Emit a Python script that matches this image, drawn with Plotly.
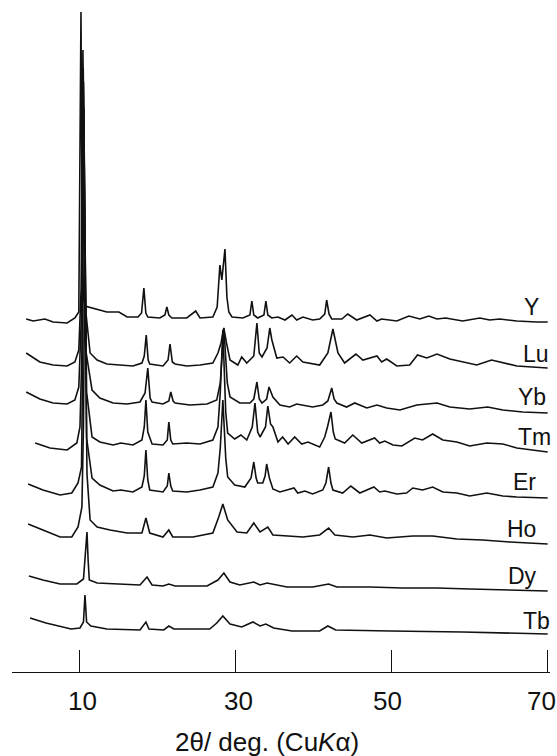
import numpy as np
import plotly.graph_objects as go

# Powder XRD patterns of the layered rare-earth hydroxides (Cu K-alpha).
# Each pattern: 2-theta (deg) and intensity above its own baseline (a.u.).

Y_TT = [3.1, 4.0, 5.5, 6.55, 8.35, 9.35, 9.85, 10.13, 10.3, 10.5, 10.65, 12.2, 13.45, 15.0, 16.05,
        17.45, 17.9, 18.2, 18.45, 18.7, 20.25, 20.9, 21.15, 21.4, 21.8, 23.7, 24.85, 25.4, 27.05, 27.6,
        27.95, 28.2, 28.6, 28.85, 29.1, 29.5, 30.9, 31.8, 32.05, 32.3, 32.8, 33.6, 33.85, 34.1, 34.6,
        35.4, 36.3, 37.2, 37.8, 38.6, 39.85, 40.75, 41.4, 41.65, 41.95, 42.3, 43.6, 44.35, 45.5, 47.2,
        48.1, 48.7, 50.65, 52.2, 53.6, 54.75, 55.8, 56.9, 59.1, 61.3, 62.55, 63.85, 66.05, 68.6, 70.0]
Y_I = [3, 1, 3, 0, -1, 4, 10, 310, 60, 22, 16, 13, 10, 10, 5,
       5, 9, 34, 9, 5, 4, 7, 15, 7, 4, 4, 11, 4, 5, 15,
       57, 42, 73, 25, 10, 5, 4, 7, 21, 7, 4, 7, 21, 7, 4,
       5, 2, 7, 2, 5, 2, 3, 8, 22, 8, 3, 3, 8, 2, 7,
       1, 3, 1, 6, 3, 6, 3, 4, 1, 4, 2, 3, 1, 0, 0]

LU_TT = [3.1, 4.85, 6.55, 8.35, 9.35, 9.85, 10.15, 10.38, 10.7, 11.3, 12.2, 13.45, 15.1, 16.8, 17.95,
         18.25, 18.5, 18.75, 18.95, 20.65, 21.3, 21.55, 21.85, 22.2, 23.7, 25.4, 27.05, 27.7, 28.1, 28.45,
         28.8, 29.25, 30.25, 30.75, 31.4, 32.3, 32.7, 33.0, 33.35, 34.0, 34.35, 34.62, 35.25, 36.05, 36.9,
         37.8, 38.6, 39.5, 40.75, 41.8, 42.45, 43.1, 43.95, 45.4, 46.3, 48.1, 48.7, 49.35, 50.65, 52.3,
         53.3, 54.5, 55.8, 57.45, 59.1, 60.9, 62.8, 64.25, 66.05, 70.0]
LU_I = [15, 6, 3, 2, 6, 18, 80, 318, 60, 15, 8, 4, 3, 2, 5,
        12, 33, 8, 4, 2, 8, 24, 6, 4, 2, 3, 5, 15, 25, 40,
        25, 8, 3, 11, 5, 12, 45, 15, 11, 20, 40, 28, 10, 11, 5,
        12, 6, 5, 3, 15, 39, 15, 5, 14, 8, 12, 6, 9, 2, 3,
        13, 10, 14, 9, 6, 3, 8, 5, 2, 0]

YB_TT = [3.1, 4.85, 6.55, 8.35, 9.35, 9.85, 10.2, 10.42, 10.8, 11.55, 12.55, 14.25, 16.05, 17.7, 18.35,
         18.7, 19.0, 19.25, 20.65, 21.4, 21.65, 21.95, 22.2, 24.1, 26.3, 27.55, 28.0, 28.46, 28.9, 29.25,
         30.5, 31.8, 32.3, 32.7, 33.0, 33.35, 33.95, 34.25, 34.75, 35.65, 36.9, 37.8, 39.85, 41.15, 41.8,
         42.3, 42.6, 42.95, 44.2, 45.25, 46.8, 48.1, 49.35, 51.05, 53.2, 55.8, 57.45, 60.0, 62.3, 64.25,
         66.8, 70.0]
YB_I = [21, 14, 10, 9, 13, 26, 100, 345, 60, 23, 15, 10, 9, 11, 20,
        45, 15, 11, 9, 12, 21, 12, 10, 8, 9, 13, 30, 85, 30, 16,
        10, 10, 14, 31, 14, 10, 14, 26, 16, 8, 6, 9, 6, 8, 12,
        25, 14, 10, 6, 10, 5, 8, 5, 3, 8, 10, 6, 4, 6, 3,
        1, 0]

TM_TT = [4.25, 6.15, 8.35, 9.6, 10.0, 10.25, 10.45, 10.85, 11.55, 12.55, 14.25, 15.25, 16.8, 17.95, 18.25,
         18.46, 18.7, 19.25, 20.65, 21.2, 21.4, 21.65, 21.9, 23.7, 25.4, 27.05, 27.7, 28.0, 28.33, 28.7,
         28.95, 29.85, 30.65, 31.4, 32.1, 32.45, 32.8, 33.1, 33.8, 34.1, 34.45, 34.75, 35.4, 36.0, 36.7,
         37.55, 38.45, 39.25, 40.75, 41.4, 41.75, 42.2, 42.5, 42.75, 43.95, 45.0, 46.15, 47.8, 48.45, 49.1,
         50.15, 51.3, 52.95, 53.95, 55.25, 56.55, 58.35, 60.0, 62.2, 64.25, 66.05, 70.0]
TM_I = [9, 4, 2, 9, 25, 100, 370, 60, 15, 10, 7, 9, 7, 12, 25,
        52, 20, 8, 7, 12, 30, 12, 8, 9, 8, 12, 25, 60, 122, 40,
        19, 13, 17, 12, 25, 49, 20, 15, 25, 46, 28, 25, 10, 15, 8,
        15, 8, 10, 5, 15, 25, 40, 20, 13, 9, 17, 9, 14, 9, 11,
        7, 6, 14, 12, 18, 12, 10, 6, 9, 8, 4, 0]

ER_TT = [3.35, 5.25, 7.45, 8.95, 9.75, 10.2, 10.32, 10.5, 10.85, 11.55, 12.55, 14.25, 15.25, 16.8, 17.95,
         18.25, 18.46, 18.7, 18.95, 20.65, 21.2, 21.4, 21.65, 21.9, 23.7, 25.4, 27.05, 27.7, 28.0, 28.33,
         28.7, 28.95, 29.85, 31.15, 31.95, 32.3, 32.6, 32.8, 33.45, 33.75, 33.95, 34.3, 34.75, 35.65, 36.55,
         37.45, 37.95, 38.85, 39.85, 41.15, 41.55, 41.9, 42.2, 42.45, 43.7, 44.75, 45.9, 47.7, 48.45, 49.1,
         50.65, 51.9, 52.7, 53.95, 55.25, 56.55, 58.35, 60.0, 62.2, 64.25, 66.05, 70.0]
ER_I = [14, 8, 3, 5, 15, 31, 120, 390, 60, 20, 13, 7, 8, 6, 11,
        22, 48, 18, 8, 6, 12, 25, 12, 7, 6, 8, 11, 25, 50, 98,
        40, 21, 13, 11, 20, 36, 20, 15, 15, 22, 34, 20, 9, 6, 8,
        10, 5, 7, 4, 8, 15, 31, 15, 8, 5, 12, 5, 11, 6, 7,
        4, 5, 10, 8, 11, 6, 5, 2, 5, 2, 1, 0]

HO_TT = [3.35, 5.25, 7.45, 8.95, 9.75, 10.25, 10.45, 10.62, 10.9, 11.3, 12.2, 13.85, 16.05, 17.95, 18.46,
         18.95, 20.65, 21.4, 21.9, 24.5, 27.05, 27.8, 28.33, 28.95, 30.15, 31.4, 32.3, 33.1, 34.1, 34.75,
         36.55, 38.6, 40.75, 41.9, 42.7, 45.0, 47.2, 49.35, 52.7, 55.25, 58.35, 61.65, 65.15, 70.0]
HO_I = [20, 14, 7, 7, 17, 37, 120, 294, 70, 24, 17, 14, 11, 11, 26,
        11, 7, 14, 7, 7, 11, 27, 40, 24, 12, 11, 21, 12, 17, 9,
        8, 7, 9, 16, 9, 7, 9, 6, 8, 8, 5, 4, 2, 0]

DY_TT = [3.45, 5.25, 7.45, 9.6, 10.45, 10.7, 10.9, 11.05, 11.2, 12.2, 14.25, 17.7, 18.6, 19.25, 20.65,
         21.4, 22.2, 26.3, 27.7, 28.46, 29.25, 30.5, 32.3, 33.1, 34.0, 36.55, 39.85, 41.9, 42.95, 47.2,
         51.4, 55.8, 60.0, 64.25, 70.0]
DY_I = [15, 11, 7, 7, 12, 35, 59, 30, 11, 8, 7, 6, 14, 6, 5,
        7, 5, 5, 11, 18, 9, 6, 9, 6, 8, 4, 4, 7, 4, 4,
        3, 3, 2, 1, 0]

TB_TT = [3.6, 5.65, 8.85, 10.0, 10.45, 10.64, 10.85, 11.4, 13.45, 17.7, 18.46, 18.85, 20.75, 21.4, 22.05,
         26.65, 27.55, 28.33, 29.25, 30.75, 32.2, 33.1, 33.85, 34.85, 37.2, 40.75, 41.8, 42.8, 49.85, 59.1,
         70.0]
TB_I = [16, 11, 5, 6, 12, 39, 12, 8, 5, 4, 12, 5, 4, 8, 5,
        5, 11, 18, 10, 7, 12, 8, 10, 6, 3, 3, 8, 4, 3, 2,
        0]

SAMPLES = ["Y", "Lu", "Yb", "Tm", "Er", "Ho", "Dy", "Tb"]
PATTERNS = [(Y_TT, Y_I), (LU_TT, LU_I), (YB_TT, YB_I), (TM_TT, TM_I),
            (ER_TT, ER_I), (HO_TT, HO_I), (DY_TT, DY_I), (TB_TT, TB_I)]
# vertical stacking offset of each pattern (a.u.)
OFFSETS = [350, 304, 259, 220, 174, 128, 81, 38]

X_TICKS = [10, 30, 50, 70]
X_TICK_TEXT = ["10", "30", "50", "70"]

# label anchor (2-theta, height) for each sample name
LABEL_POS = [(67.95, 365), (68.46, 318), (67.95, 275), (68.33, 235),
             (67.05, 190), (66.67, 143), (66.79, 96), (68.59, 51)]
# small horizontal nudges of the tick numbers (px)
TICK_SHIFT = [3, 3, -4, -6]

FONT = "Liberation Sans, Arial, Helvetica, sans-serif"

fig = go.Figure()
for name, (tt, inten), off in zip(SAMPLES, PATTERNS, OFFSETS):
    fig.add_trace(go.Scatter(
        x=tt, y=np.asarray(inten, dtype=float) + off,
        mode="lines", name=name,
        line=dict(color="#111111", width=1.6),
        hoverinfo="skip",
    ))

for name, (lx, ly) in zip(SAMPLES, LABEL_POS):
    fig.add_annotation(x=lx, y=ly, xref="x", yref="y", text=name, showarrow=False,
                       xanchor="center", yanchor="middle",
                       font=dict(family=FONT, size=23, color="#111111"))

# tick numbers, set just under the axis line
for tv, tt_txt, sh in zip(X_TICKS, X_TICK_TEXT, TICK_SHIFT):
    fig.add_annotation(x=tv, y=-0.043, xref="x", yref="paper", text=tt_txt,
                       showarrow=False, xanchor="center", yanchor="middle", xshift=sh,
                       font=dict(family=FONT, size=26, color="#111111"))

fig.add_annotation(x=34, y=-0.104, xref="x", yref="paper",
                   text="2θ/ deg. (Cu<i>K</i>α)", showarrow=False,
                   xanchor="center", yanchor="middle",
                   font=dict(family=FONT, size=26, color="#111111"))

fig.update_layout(
    width=557, height=756,
    margin=dict(l=12, r=7, t=0, b=84),
    paper_bgcolor="white", plot_bgcolor="white",
    showlegend=False,
    xaxis=dict(range=[1.28, 70.3], showline=True, linecolor="#111111", linewidth=1.3,
               ticks="inside", ticklen=22, tickwidth=1.3, tickcolor="#111111",
               tickvals=X_TICKS, showticklabels=False,
               showgrid=False, zeroline=False, fixedrange=True),
    yaxis=dict(range=[0, 672], visible=False, showgrid=False, zeroline=False, fixedrange=True),
)

fig.write_html("out.html")
